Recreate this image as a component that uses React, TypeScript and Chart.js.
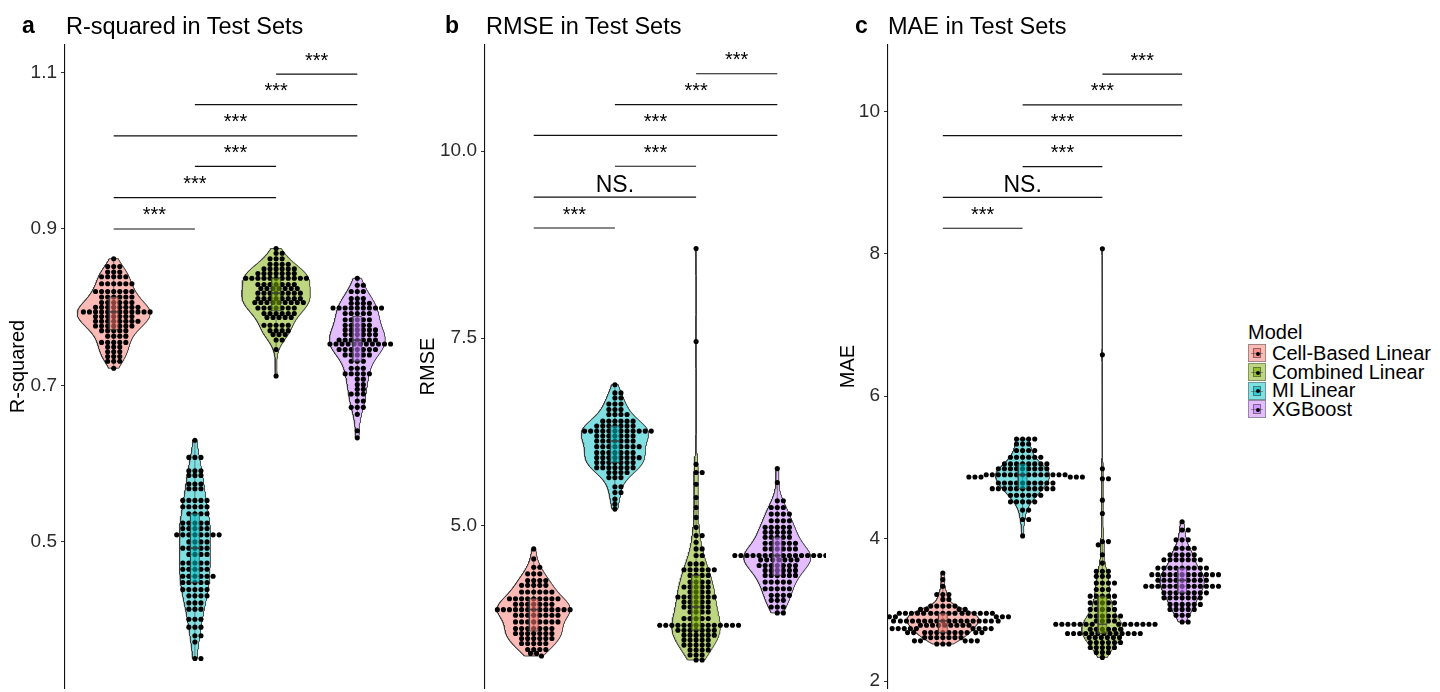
import React, { useEffect, useRef } from "react";
import { Chart, registerables } from "chart.js";
Chart.register(...registerables);

// ---------- categories ----------
const xModels = ["Cell-Based Linear", "MI Linear", "Combined Linear", "XGBoost"];
const legendModels = ["Cell-Based Linear", "Combined Linear", "MI Linear", "XGBoost"];
const modelRGB: Record<string, number[]> = {
  "Cell-Based Linear": [248, 118, 109],
  "Combined Linear": [124, 174, 0],
  "MI Linear": [0, 191, 196],
  XGBoost: [199, 124, 255],
};

// ---------- panel a: R-squared (row values + number of test sets at that value) ----------
const aCellVals = [0.862, 0.852, 0.845, 0.839, 0.83, 0.82, 0.813, 0.806, 0.8, 0.794, 0.788, 0.782, 0.776, 0.77, 0.763, 0.755, 0.749, 0.743, 0.737, 0.731, 0.722];
const aCellCnt = [1, 3, 3, 5, 6, 7, 6, 6, 8, 12, 7, 8, 7, 5, 4, 5, 3, 3, 3, 3, 1];
const aMIVals = [0.63, 0.608, 0.591, 0.585, 0.574, 0.568, 0.553, 0.545, 0.536, 0.524, 0.517, 0.509, 0.5, 0.492, 0.484, 0.473, 0.465, 0.456, 0.448, 0.439, 0.431, 0.422, 0.414, 0.401, 0.391, 0.38, 0.372, 0.351];
const aMICnt = [1, 3, 3, 3, 3, 3, 5, 5, 4, 5, 5, 8, 4, 5, 4, 5, 5, 6, 5, 5, 4, 3, 3, 3, 3, 2, 1, 2];
const aCombVals = [0.875, 0.869, 0.862, 0.855, 0.849, 0.843, 0.837, 0.829, 0.824, 0.818, 0.811, 0.806, 0.799, 0.792, 0.787, 0.777, 0.77, 0.765, 0.758, 0.746, 0.712];
const aCombCnt = [1, 2, 3, 4, 6, 7, 11, 7, 7, 8, 8, 9, 7, 6, 5, 5, 4, 3, 2, 1, 1];
const aXgbVals = [0.837, 0.828, 0.82, 0.811, 0.805, 0.799, 0.792, 0.784, 0.777, 0.771, 0.765, 0.758, 0.753, 0.746, 0.739, 0.731, 0.722, 0.715, 0.708, 0.701, 0.695, 0.689, 0.68, 0.672, 0.663, 0.642, 0.633];
const aXgbCnt = [1, 2, 3, 3, 4, 9, 5, 5, 5, 6, 6, 7, 11, 7, 5, 3, 3, 5, 2, 2, 2, 3, 2, 3, 1, 1, 1];

// ---------- panel b: RMSE ----------
const bCellVals = [4.685, 4.552, 4.441, 4.352, 4.264, 4.198, 4.109, 4.02, 3.945, 3.874, 3.799, 3.71, 3.621, 3.555, 3.488, 3.422, 3.342, 3.289, 3.254];
const bCellCnt = [1, 1, 2, 3, 4, 5, 6, 9, 7, 13, 8, 8, 7, 7, 6, 5, 4, 2, 1];
const bMIVals = [6.879, 6.769, 6.702, 6.622, 6.547, 6.48, 6.392, 6.326, 6.259, 6.193, 6.126, 6.051, 5.971, 5.904, 5.838, 5.771, 5.705, 5.638, 5.515, 5.439, 5.35, 5.283, 5.217];
const bMICnt = [1, 2, 2, 3, 3, 4, 6, 7, 12, 7, 7, 8, 7, 8, 7, 7, 4, 3, 2, 2, 1, 1, 1];
const bCombVals = [8.697, 7.456, 5.815, 5.705, 5.549, 5.372, 5.239, 5.106, 4.973, 4.863, 4.774, 4.685, 4.597, 4.485, 4.406, 4.331, 4.242, 4.176, 4.109, 4.043, 3.976, 3.91, 3.843, 3.754, 3.666, 3.599, 3.533, 3.467, 3.4, 3.334, 3.267, 3.201];
const bCombCnt = [1, 1, 1, 2, 1, 1, 1, 1, 1, 2, 1, 2, 2, 3, 6, 4, 4, 5, 4, 7, 5, 5, 4, 5, 14, 7, 6, 5, 5, 4, 3, 2];
const bXgbVals = [5.758, 5.572, 5.328, 5.239, 5.15, 5.062, 4.973, 4.907, 4.84, 4.761, 4.685, 4.597, 4.539, 4.464, 4.398, 4.331, 4.242, 4.153, 4.065, 3.998, 3.91, 3.83];
const bXgbCnt = [1, 1, 2, 3, 4, 4, 5, 5, 5, 6, 6, 16, 7, 7, 6, 6, 5, 5, 4, 3, 3, 2];

// ---------- panel c: MAE ----------
const cCellVals = [3.516, 3.424, 3.331, 3.215, 3.146, 3.052, 3.006, 2.951, 2.903, 2.843, 2.783, 2.736, 2.68, 2.61, 2.564, 2.519];
const cCellCnt = [1, 1, 1, 3, 2, 5, 4, 16, 7, 18, 9, 9, 12, 7, 5, 3];
const cMIVals = [5.398, 5.328, 5.236, 5.143, 5.049, 4.98, 4.896, 4.864, 4.781, 4.701, 4.609, 4.516, 4.4, 4.269, 4.038];
const cMICnt = [4, 3, 4, 6, 8, 9, 14, 6, 10, 11, 6, 5, 2, 2, 1];
const cCombVals = [8.07, 6.58, 4.98, 4.84, 4.54, 4.353, 3.958, 3.912, 3.773, 3.656, 3.54, 3.47, 3.377, 3.285, 3.192, 3.098, 3.006, 2.913, 2.843, 2.797, 2.728, 2.667, 2.61, 2.541, 2.471, 2.402, 2.332];
const cCombCnt = [1, 1, 1, 2, 1, 1, 2, 1, 1, 1, 3, 3, 4, 3, 5, 5, 5, 6, 4, 14, 6, 13, 6, 6, 5, 3, 1];
const cXgbVals = [4.237, 4.121, 3.982, 3.865, 3.773, 3.703, 3.586, 3.494, 3.415, 3.331, 3.238, 3.168, 3.076, 3.006, 2.923, 2.829];
const cXgbCnt = [1, 2, 3, 4, 5, 7, 9, 12, 9, 13, 8, 7, 6, 5, 3, 2];

// ---------- ticks ----------
const aTickVals = [0.5, 0.7, 0.9, 1.1];
const aTickLabels = ["0.5", "0.7", "0.9", "1.1"];
const bTickVals = [5.0, 7.5, 10.0];
const bTickLabels = ["5.0", "7.5", "10.0"];
const cTickVals = [2, 4, 6, 8, 10];
const cTickLabels = ["2", "4", "6", "8", "10"];

// ---------- significance brackets ----------
const bracketPairs = [[1, 2], [1, 3], [2, 3], [1, 4], [2, 4], [3, 4]];
const aBracketY = [0.9, 0.94, 0.98, 1.019, 1.059, 1.098];
const aBracketLabels = ["***", "***", "***", "***", "***", "***"];
const bBracketY = [8.972, 9.384, 9.797, 10.209, 10.621, 11.033];
const bBracketLabels = ["***", "NS.", "***", "***", "***", "***"];
const cBracketY = [8.358, 8.79, 9.222, 9.659, 10.091, 10.523];
const cBracketLabels = ["***", "NS.", "***", "***", "***", "***"];

const FONT = '"Liberation Sans", Arial, Helvetica, sans-serif';

const panels = [
  {
    id: "a", title: "R-squared in Test Sets", yTitle: "R-squared",
    left: 0, width: 410, padLeft: 6, padRight: 2, scaleW: 59,
    xMin: 0.4, xMax: 4.6, yMin: 0.3132, yMax: 1.1352,
    tickVals: aTickVals, tickLabels: aTickLabels,
    groups: [[aCellVals, aCellCnt], [aMIVals, aMICnt], [aCombVals, aCombCnt], [aXgbVals, aXgbCnt]],
    bracketY: aBracketY, bracketLabels: aBracketLabels,
    letterX: 22, titleX: 66,
  },
  {
    id: "b", title: "RMSE in Test Sets", yTitle: "RMSE",
    left: 410, width: 420, padLeft: 6, padRight: 2, scaleW: 69,
    xMin: 0.4, xMax: 4.6, yMin: 2.827, yMax: 11.417,
    tickVals: bTickVals, tickLabels: bTickLabels,
    groups: [[bCellVals, bCellCnt], [bMIVals, bMICnt], [bCombVals, bCombCnt], [bXgbVals, bXgbCnt]],
    bracketY: bBracketY, bracketLabels: bBracketLabels,
    letterX: 445, titleX: 486,
  },
  {
    id: "c", title: "MAE in Test Sets", yTitle: "MAE",
    left: 830, width: 403, padLeft: 6, padRight: 2, scaleW: 52,
    xMin: 0.3125, xMax: 4.5875, yMin: 1.902, yMax: 10.931,
    tickVals: cTickVals, tickLabels: cTickLabels,
    groups: [[cCellVals, cCellCnt], [cMIVals, cMICnt], [cCombVals, cCombCnt], [cXgbVals, cXgbCnt]],
    bracketY: cBracketY, bracketLabels: cBracketLabels,
    letterX: 855, titleX: 888,
  },
];

// ---------- helpers ----------
function expand(vals: number[], cnt: number[]) {
  const out: number[] = [];
  vals.forEach((v, i) => { for (let k = 0; k < cnt[i]; k++) out.push(v); });
  return out;
}
function quantile(sorted: number[], p: number) {
  const h = (sorted.length - 1) * p;
  const lo = Math.floor(h), hi = Math.ceil(h);
  return sorted[lo] + (h - lo) * (sorted[hi] - sorted[lo]);
}
function bwNrd0(x: number[]) {
  const n = x.length;
  const mean = x.reduce((s, v) => s + v, 0) / n;
  const sd = Math.sqrt(x.reduce((s, v) => s + (v - mean) ** 2, 0) / (n - 1));
  const s = [...x].sort((a, b) => a - b);
  const iqr = quantile(s, 0.75) - quantile(s, 0.25);
  let lo = Math.min(sd, iqr / 1.34);
  if (!(lo > 0)) lo = sd || 1;
  return 0.9 * lo * Math.pow(n, -0.2);
}
function density(x: number[], bw: number, y: number) {
  let s = 0;
  for (const v of x) { const z = (y - v) / bw; s += Math.exp(-0.5 * z * z); }
  return s / (x.length * bw * Math.sqrt(2 * Math.PI));
}
// beeswarm: vertical distances are stretched (ky) so that rows of equal values stay flat
function swarm(ys: number[], d: number, ky: number) {
  const idx = ys.map((_, i) => i).sort((a, b) => ys[a] - ys[b]);
  const placed: { x: number; y: number }[] = [];
  const xs = new Array(ys.length).fill(0);
  for (const i of idx) {
    const y = ys[i];
    const near = placed.filter((p) => Math.abs(p.y - y) * ky < d);
    const cands = [0];
    for (const p of near) {
      const dy = (p.y - y) * ky;
      const dx = Math.sqrt(d * d - dy * dy);
      cands.push(p.x + dx, p.x - dx);
    }
    cands.sort((a, b) => Math.abs(a) - Math.abs(b));
    let best = 0;
    for (const c of cands) {
      if (near.every((p) => (p.x - c) ** 2 + ((p.y - y) * ky) ** 2 >= d * d - 1e-6)) { best = c; break; }
    }
    xs[i] = best;
    placed.push({ x: best, y });
  }
  return xs;
}
const rgba = (c: number[], a: number) => `rgba(${c[0]},${c[1]},${c[2]},${a})`;

function Panel({ p }: { p: any }) {
  const ref = useRef<HTMLCanvasElement>(null);
  useEffect(() => {
    const canvas = ref.current!;
    const groups = p.groups.map((g: any) => expand(g[0], g[1]));
    const N = 512;
    const dens = groups.map((g: number[]) => {
      const bw = bwNrd0(g);
      const lo = Math.min(...g), hi = Math.max(...g);
      const ys: number[] = [], ds: number[] = [];
      for (let i = 0; i < N; i++) {
        const y = lo + ((hi - lo) * i) / (N - 1);
        ys.push(y); ds.push(density(g, bw, y));
      }
      return { ys, ds };
    });
    const gmax = Math.max(...dens.map((d: any) => Math.max(...d.ds)));
    const datasets: any[] = [];
    groups.forEach((g: number[], gi: number) => {
      const cx = gi + 1;
      const col = modelRGB[xModels[gi]];
      const { ys, ds } = dens[gi];
      const poly: any[] = [];
      for (let i = 0; i < N; i++) poly.push({ x: cx + (0.45 * ds[i]) / gmax, y: ys[i] });
      for (let i = N - 1; i >= 0; i--) poly.push({ x: cx - (0.45 * ds[i]) / gmax, y: ys[i] });
      poly.push(poly[0]);
      datasets.push({
        data: poly, showLine: true, fill: "shape", pointRadius: 0, borderWidth: 1,
        borderColor: "rgba(60,60,60,0.9)", backgroundColor: rgba(col, 0.5), order: 50, tension: 0,
      });
      const s = [...g].sort((a, b) => a - b);
      const q1 = quantile(s, 0.25), q3 = quantile(s, 0.75), med = quantile(s, 0.5);
      const iqr = q3 - q1;
      const wLo = s.find((v) => v >= q1 - 1.5 * iqr)!;
      const wHi = [...s].reverse().find((v) => v <= q3 + 1.5 * iqr)!;
      datasets.push({
        data: [{ x: cx, y: wLo }, { x: cx, y: wHi }], showLine: true, pointRadius: 0,
        borderWidth: 0.8, borderColor: "rgba(70,70,70,0.8)", order: 40,
      });
      const bw = 0.055;
      datasets.push({
        data: [{ x: cx - bw, y: q1 }, { x: cx + bw, y: q1 }, { x: cx + bw, y: q3 }, { x: cx - bw, y: q3 }, { x: cx - bw, y: q1 }],
        showLine: true, fill: "shape", pointRadius: 0, borderWidth: 1,
        borderColor: "rgba(60,60,60,0.7)", backgroundColor: rgba(col, 0.55), order: 20, tension: 0,
      });
      datasets.push({
        data: [{ x: cx - bw, y: med }, { x: cx + bw, y: med }], showLine: true, pointRadius: 0,
        borderWidth: 1.6, borderColor: "rgba(60,60,60,0.85)", order: 10,
      });
    });
    const pointsIdx = datasets.length;
    datasets.push({
      data: [], pointRadius: 2.55, pointBackgroundColor: "#000", pointBorderWidth: 0,
      backgroundColor: "#000", borderColor: "#000", order: 30,
    });
    bracketPairs.forEach(([i, j], k) => {
      datasets.push({
        data: [{ x: i, y: p.bracketY[k] }, { x: j, y: p.bracketY[k] }], showLine: true,
        pointRadius: 0, borderWidth: 1.2, borderColor: "#111", order: 5,
      });
    });

    const sigPlugin = {
      id: "sig" + p.id,
      afterDatasetsDraw(chart: any) {
        const { ctx, scales } = chart;
        ctx.save();
        ctx.fillStyle = "#000";
        ctx.textAlign = "center";
        ctx.textBaseline = "alphabetic";
        bracketPairs.forEach(([i, j], k) => {
          const px = (scales.x.getPixelForValue(i) + scales.x.getPixelForValue(j)) / 2;
          const py = scales.y.getPixelForValue(p.bracketY[k]);
          const lab = p.bracketLabels[k];
          if (lab === "NS.") { ctx.font = `23px ${FONT}`; ctx.fillText(lab, px, py - 5.5); }
          else { ctx.font = `20px ${FONT}`; ctx.fillText(lab, px, py - 7.5); }
        });
        ctx.restore();
      },
    };

    const chart = new Chart(canvas, {
      type: "scatter",
      data: { datasets },
      plugins: [sigPlugin],
      options: {
        animation: false, responsive: false, maintainAspectRatio: false, devicePixelRatio: 1,
        events: [],
        layout: { padding: { left: p.padLeft, right: p.padRight, top: 45, bottom: 0 } },
        plugins: { legend: { display: false }, tooltip: { enabled: false } },
        scales: {
          x: { type: "linear", min: p.xMin, max: p.xMax, display: false },
          y: {
            type: "linear", min: p.yMin, max: p.yMax,
            afterBuildTicks: (s: any) => { s.ticks = p.tickVals.map((v: number) => ({ value: v })); },
            afterFit: (s: any) => { s.width = p.scaleW; s.paddingTop = 0; s.paddingBottom = 0; },
            ticks: {
              autoSkip: false, padding: 4, color: "#2b2b2b",
              font: { family: FONT, size: 19 },
              callback: (v: number) => { const i = p.tickVals.indexOf(v); return i >= 0 ? p.tickLabels[i] : ""; },
            },
            grid: { drawOnChartArea: false, drawTicks: true, tickLength: 4, color: "#333", lineWidth: 1 },
            border: { display: true, color: "#111", width: 1.1 },
            title: { display: true, text: p.yTitle, color: "#000", font: { family: FONT, size: 20 }, padding: 0 },
          },
        },
      } as any,
    });

    // beeswarm layout computed in pixel space through the chart's scales
    const ys = chart.scales.y, xs = chart.scales.x;
    const pxPerX = xs.getPixelForValue(1) - xs.getPixelForValue(0);
    const pts: any[] = [];
    groups.forEach((g: number[], gi: number) => {
      const py = g.map((v) => ys.getPixelForValue(v));
      const off = swarm(py, 6.1, 1.35);
      g.forEach((v, k) => pts.push({ x: gi + 1 + off[k] / pxPerX, y: v }));
    });
    chart.data.datasets[pointsIdx].data = pts;
    chart.update();
    return () => chart.destroy();
  }, []);
  return (
    <canvas ref={ref} width={p.width} height={692}
      style={{ position: "absolute", left: p.left, top: 0, width: p.width, height: 692 }} />
  );
}

function Key({ name }: { name: string }) {
  const c = modelRGB[name];
  return (
    <div style={{ width: 18, height: 18, position: "relative", background: rgba(c, 0.5), border: "1px solid rgba(90,90,90,0.55)", boxSizing: "border-box" }}>
      <div style={{ position: "absolute", left: 4, right: 4, top: 3, bottom: 3, background: rgba(c, 0.6), border: "1px solid rgba(60,60,60,0.55)", boxSizing: "border-box" }} />
      <div style={{ position: "absolute", left: 2, right: 2, top: 8, height: 1, background: "rgba(60,60,60,0.45)" }} />
      <div style={{ position: "absolute", left: 6.5, top: 6.5, width: 4, height: 4, borderRadius: 2, background: "#000" }} />
    </div>
  );
}

export default function App() {
  return (
    <div style={{ position: "fixed", left: 0, top: 0, width: 1440, height: 692, overflow: "hidden", background: "#fff", fontFamily: FONT }}>
      {panels.map((p) => (
        <React.Fragment key={p.id}>
          <Panel p={p} />
          <div style={{ position: "absolute", left: p.letterX, top: 13, fontSize: 23, fontWeight: "bold", lineHeight: "24px", color: "#000" }}>{p.id}</div>
          <div style={{ position: "absolute", left: p.titleX, top: 14, fontSize: 23.5, lineHeight: "24px", color: "#000", whiteSpace: "nowrap" }}>{p.title}</div>
        </React.Fragment>
      ))}
      <div style={{ position: "absolute", left: 1248, top: 321 }}>
        <div style={{ fontSize: 20, lineHeight: "23px", height: 23, color: "#000" }}>Model</div>
        {legendModels.map((m) => (
          <div key={m} style={{ display: "flex", alignItems: "center", height: 18.7 }}>
            <Key name={m} />
            <span style={{ marginLeft: 6, fontSize: 20, lineHeight: "18.7px", color: "#000", whiteSpace: "nowrap" }}>{m}</span>
          </div>
        ))}
      </div>
    </div>
  );
}
